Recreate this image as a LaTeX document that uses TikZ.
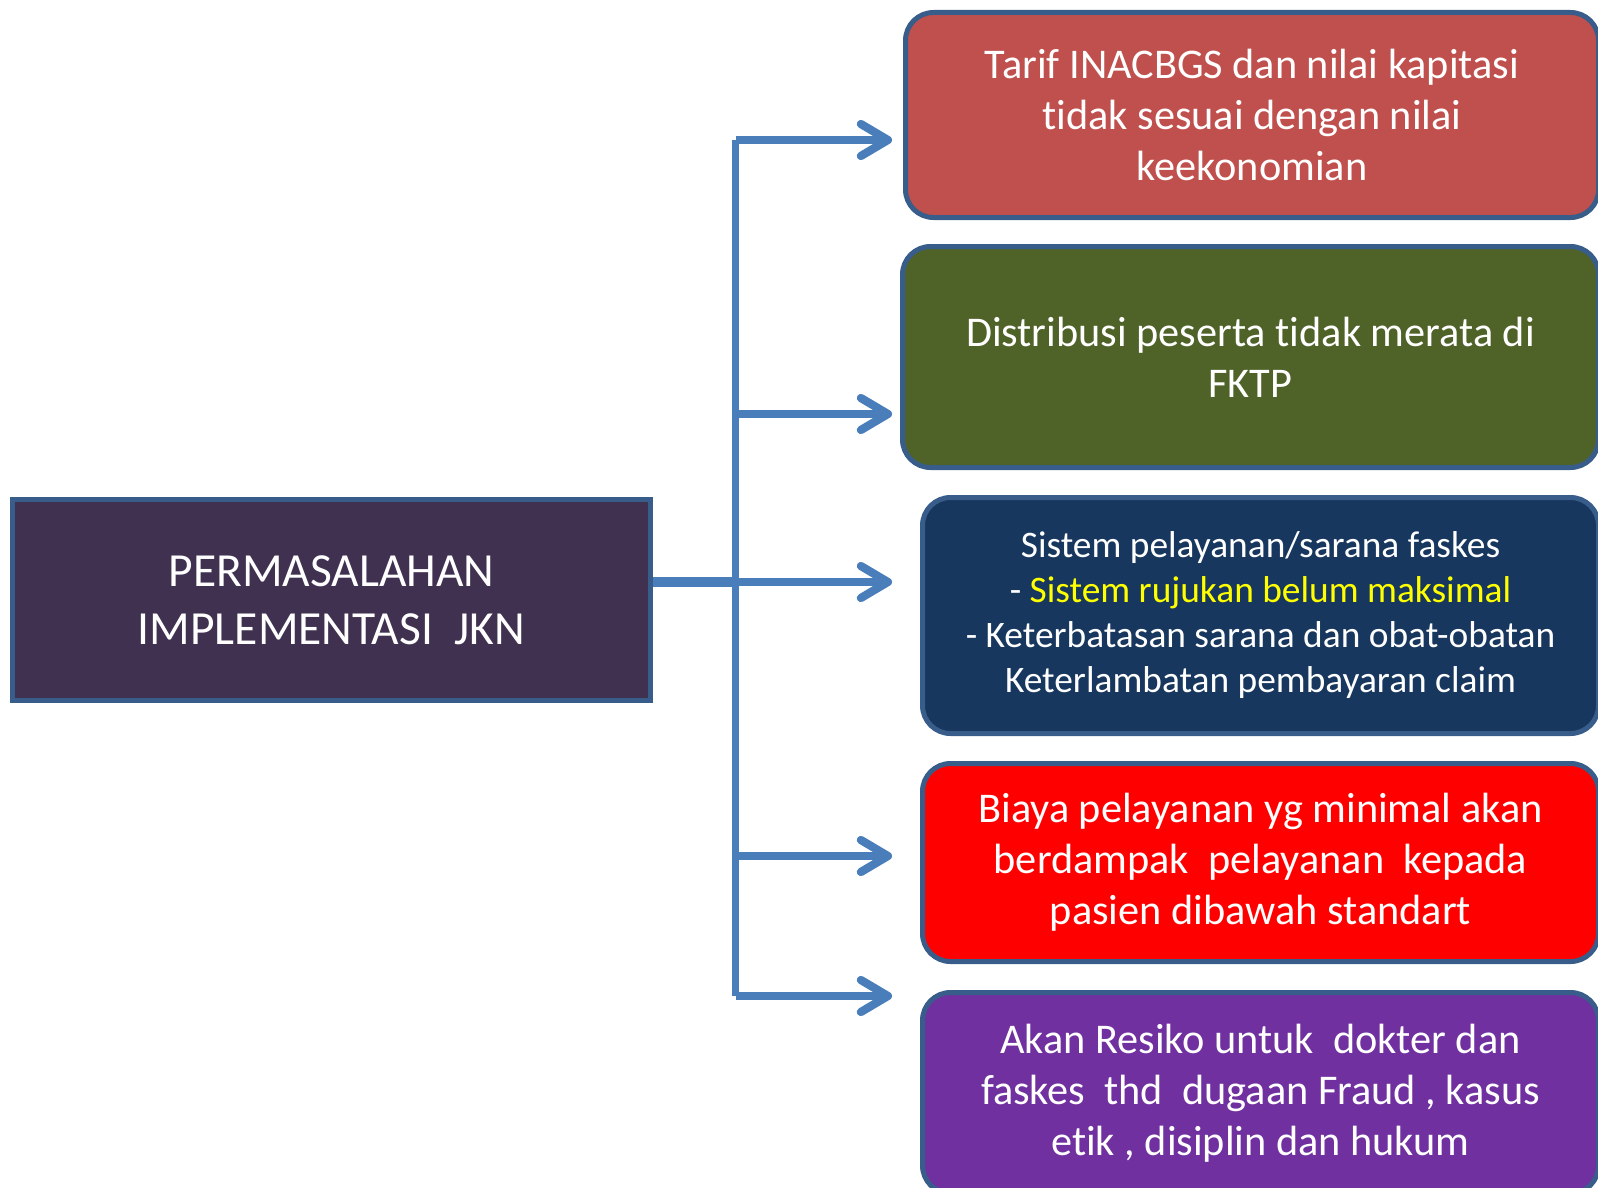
\documentclass[tikz,border=0pt]{standalone}
\usepackage{fontspec}
\setmainfont{Carlito}[Ligatures=NoCommon]
\usetikzlibrary{arrows.meta}
\definecolor{jknpurple}{HTML}{403151}
\definecolor{rimblue}{HTML}{385D8A}
\definecolor{arrowblue}{HTML}{4A7EBB}
\definecolor{tarifred}{HTML}{C0504D}
\definecolor{fktpgreen}{HTML}{4F6228}
\definecolor{faskesnavy}{HTML}{17375E}
\definecolor{biayared}{HTML}{FF0000}
\definecolor{resikopurple}{HTML}{7030A0}
\definecolor{notice}{HTML}{FFFF00}
\newcommand\boxfont{\fontsize{42.3}{51}\selectfont}
\newcommand\smallboxfont{\fontsize{37.4}{45}\selectfont}
\tikzset{
  problem/.style={draw=rimblue, line width=5pt, rounded corners=28pt, text=white,
    align=center, inner sep=0pt},
  branch/.style={draw=arrowblue, line width=7.5pt,
    -{Straight Barb[length=27pt,width=32pt,line width=0pt 1.1,round]}},
  stem/.style={draw=arrowblue, line width=10pt}
}
\begin{document}
\begin{tikzpicture}[x=1pt,y=-1pt]
\useasboundingbox (0,0) rectangle (1598,1188);
\clip (0,0) rectangle (1598,1188);

\node[draw=rimblue, line width=5pt, fill=jknpurple, text=white, align=center,
  minimum width=638pt, minimum height=201pt, inner sep=0pt,
  font=\fontsize{47.5}{58}\selectfont] (jkn) at (331.5,600)
  {PERMASALAHAN\\IMPLEMENTASI\ \ JKN};

\node[problem, fill=tarifred, minimum width=693pt, minimum height=205pt, font=\boxfont]
  (tarif) at (1252,115)
  {Tarif INACBGS dan nilai kapitasi\\tidak sesuai dengan nilai\\keekonomian};
\node[problem, fill=fktpgreen, minimum width=696pt, minimum height=221pt, font=\boxfont]
  (distribusi) at (1250.5,357)
  {Distribusi peserta tidak merata di\\FKTP};
\node[problem, fill=faskesnavy, minimum width=676pt, minimum height=236pt, font=\smallboxfont]
  (sistem) at (1260.5,615.5)
  {Sistem pelayanan/sarana faskes\\- \textcolor{notice}{Sistem rujukan belum maksimal}\\- Keterbatasan sarana dan obat-obatan\\Keterlambatan pembayaran claim};
\node[problem, fill=biayared, minimum width=676pt, minimum height=198pt, font=\boxfont]
  (biaya) at (1260.5,862.5)
  {Biaya pelayanan yg minimal akan\\berdampak\ \ pelayanan\ \ kepada\\pasien dibawah standart};
\node[problem, fill=resikopurple, minimum width=676pt, minimum height=201pt, font=\boxfont]
  (resiko) at (1260.5,1093)
  {Akan Resiko untuk\ \ dokter dan\\faskes\ \ thd\ \ dugaan Fraud , kasus\\etik , disiplin dan hukum};

\coordinate (trunk1) at (735.5,140);
\coordinate (trunk2) at (735.5,414);
\coordinate (trunk3) at (735.5,582);
\coordinate (trunk4) at (735.5,856);
\coordinate (trunk5) at (735.5,996);
\foreach \i in {1,...,5}
  \coordinate (tip\i) at (tarif.west |- trunk\i);

\draw[stem] (trunk3 -| jkn.east) -- (trunk3);
\draw[arrowblue, line width=7.5pt] (trunk1) -- (trunk5);
\foreach \i in {1,...,5}
  \draw[branch, shorten >=11pt] (trunk\i) -- (tip\i);
\end{tikzpicture}
\end{document}
